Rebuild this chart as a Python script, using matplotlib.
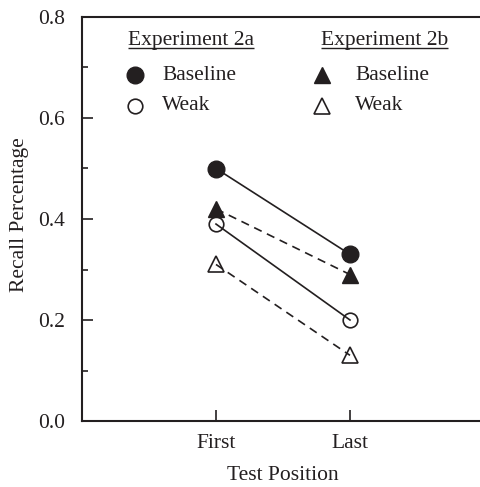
import matplotlib
matplotlib.use("Agg")
import matplotlib.pyplot as plt
from matplotlib.ticker import MultipleLocator

plt.rcParams['font.family'] = ['Liberation Serif', 'DejaVu Serif']

positions = ["First", "Last"]
exp2a_baseline = [0.50, 0.33]
exp2a_weak = [0.39, 0.20]
exp2b_baseline = [0.42, 0.29]
exp2b_weak = [0.31, 0.13]

ink = '#231f20'
fs = 15.5
fig = plt.figure(figsize=(4.8, 4.87), dpi=100)
ax = fig.add_axes([82/480, 66/487, 402/480, 404/487])
x = [1, 2]

ax.plot(x, exp2a_baseline, '-', color=ink, lw=1.2, marker='o', ms=12, mfc=ink, mec=ink)
ax.plot(x, exp2a_weak, '-', color=ink, lw=1.2, marker='o', ms=10.5, mfc='none', mec=ink, mew=1.2)
ax.plot(x, exp2b_baseline, '--', color=ink, lw=1.2, dashes=(5, 3.5), marker='^', ms=12, mfc=ink, mec=ink)
ax.plot(x, exp2b_weak, '--', color=ink, lw=1.2, dashes=(5, 3.5), marker='^', ms=12, mfc='none', mec=ink, mew=1.2)

ax.set_xlim(0, 3)
ax.set_ylim(0, 0.8)
ax.set_xticks(x)
ax.set_xticklabels(positions)
ax.yaxis.set_major_locator(MultipleLocator(0.2))
ax.yaxis.set_minor_locator(MultipleLocator(0.1))
ax.yaxis.set_major_formatter(plt.FormatStrFormatter('%.1f'))
ax.tick_params(axis='both', which='major', direction='in', length=8, width=1.2,
               labelsize=fs, colors=ink)
ax.tick_params(axis='y', which='minor', direction='in', length=4, width=1.2, colors=ink)
ax.tick_params(axis='y', which='major', pad=12.5)
ax.tick_params(axis='x', which='major', pad=9)
for s in ax.spines.values():
    s.set_linewidth(1.5)
    s.set_color(ink)
ax.spines['right'].set_visible(False)

ax.set_xlabel("Test Position", fontsize=fs, color=ink, labelpad=10)
ax.set_ylabel("Recall Percentage", fontsize=fs, color=ink, labelpad=6)
ax.yaxis.label.set_y(0.512)

# legend
h1 = ax.text(0.343, 0.754, "Experiment 2a", fontsize=fs, color=ink, va='center', ha='left')
h2 = ax.text(1.785, 0.754, "Experiment 2b", fontsize=fs, color=ink, va='center', ha='left')
ax.plot([0.395], [0.685], 'o', ms=12, mfc=ink, mec=ink)
ax.plot([0.395], [0.624], 'o', ms=10.5, mfc='none', mec=ink, mew=1.2)
ax.plot([1.79], [0.685], '^', ms=12, mfc=ink, mec=ink)
ax.plot([1.79], [0.624], '^', ms=12, mfc='none', mec=ink, mew=1.2)
ax.text(0.597, 0.685, "Baseline", fontsize=fs, color=ink, va='center', ha='left')
ax.text(0.597, 0.624, "Weak", fontsize=fs, color=ink, va='center', ha='left')
ax.text(2.04, 0.685, "Baseline", fontsize=fs, color=ink, va='center', ha='left')
ax.text(2.04, 0.624, "Weak", fontsize=fs, color=ink, va='center', ha='left')

fig.canvas.draw()
r = fig.canvas.get_renderer()
inv = ax.transData.inverted()
for h in (h1, h2):
    bb = h.get_window_extent(r)
    (x0, y0), (x1, _) = inv.transform([(bb.x0, bb.y0), (bb.x1, bb.y0)])
    ax.plot([x0, x1], [y0 + 0.003, y0 + 0.003], color=ink, lw=1.0, solid_capstyle='butt')

fig.savefig("out.png", dpi=100)
